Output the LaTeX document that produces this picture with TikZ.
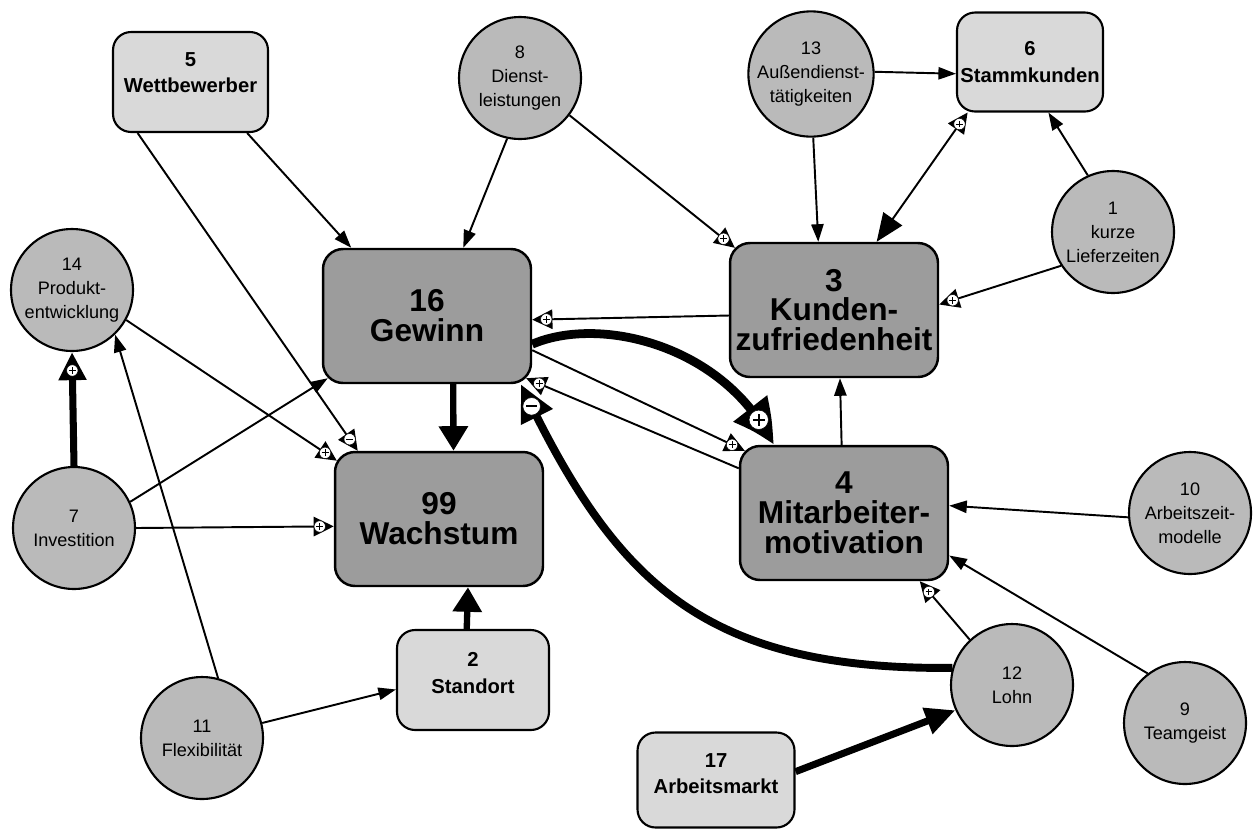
\documentclass[tikz,border=0pt]{standalone}
\usepackage{fontspec}
\setmainfont{Liberation Sans}
\usetikzlibrary{arrows.meta,bending,decorations.markings,calc}
\definecolor{dk}{gray}{0.61}
\definecolor{md}{gray}{0.73}
\definecolor{lt}{gray}{0.85}
\tikzset{
 bigbox/.style={draw, line width=1.4pt, rounded corners=0.4cm, fill=dk, minimum width=4.16cm, minimum height=2.68cm, inner sep=0pt, align=center, font=\fontsize{18}{17}\selectfont\bfseries},
 smallbox/.style={draw, line width=1.2pt, rounded corners=0.36cm, fill=lt, minimum width=3.1cm, minimum height=2cm, inner sep=0pt, align=center, font=\fontsize{11.5}{15}\selectfont\bfseries},
 circ/.style={draw, circle, line width=1.2pt, fill=md, minimum size=2.44cm, inner sep=0pt, align=center, font=\fontsize{10.3}{13.7}\selectfont},
 conn/.style={line width=1.1pt, -{Triangle[length=10pt,width=7pt]}},
 connp/.style={line width=1.1pt, -{Triangle[length=11.5pt,width=11pt]}},
 thickarr/.style={line width=3.6pt, -{Triangle[length=14pt,width=16pt]}},
 pmk/.style 2 args={postaction={decorate,decoration={markings,mark=at position #1 with {\pgftransformresetnontranslations
   \draw[-,fill=white,line width=0.3pt] (0pt,0pt) circle (#2/2);
   \draw[-,line width=0.085*#2] (-0.3*#2,0pt) -- (0.3*#2,0pt) (0pt,-0.3*#2) -- (0pt,0.3*#2);}}}},
 mmk/.style 2 args={postaction={decorate,decoration={markings,mark=at position #1 with {\pgftransformresetnontranslations
   \draw[-,fill=white,line width=0.3pt] (0pt,0pt) circle (#2/2);
   \draw[-,line width=0.12*#2] (-0.3*#2,0pt) -- (0.3*#2,0pt);}}}},
}
\begin{document}
\begin{tikzpicture}[x=0.02cm,y=-0.02cm]
\fill[white] (0,0) rectangle (1253,832);
\useasboundingbox (0,0) rectangle (1253,832);
% nodes
\node[smallbox] (n5) at (190.5,82) {5\\Wettbewerber\\[-4.5pt]\mbox{}};
\node[circ] (n8) at (520,78) {8\\Dienst-\\leistungen};
\node[circ] (n13) at (811,74) {13\\Außendienst-\\tätigkeiten};
\node[smallbox, minimum width=2.92cm, minimum height=1.98cm] (n6) at (1030,62) {6\\Stammkunden};
\node[circ] (n1) at (1113,232) {1\\kurze\\Lieferzeiten};
\node[circ] (n14) at (72,290) {14\\Produkt-\\entwicklung};
\node[bigbox] (n16) at (427,316) {16\\Gewinn};
\node[bigbox] (n3) at (834,310) {3\\Kunden-\\zufriedenheit};
\node[bigbox] (n99) at (439,519) {99\\Wachstum};
\node[bigbox] (n4) at (844,513) {4\\Mitarbeiter-\\motivation};
\node[circ] (n7) at (74,528) {7\\Investition};
\node[circ] (n10) at (1190,513) {10\\Arbeitszeit-\\modelle};
\node[smallbox, minimum width=3.04cm] (n2) at (473,680) {2\\Standort\\[-7pt]\mbox{}};
\node[circ] (n11) at (202,738) {11\\Flexibilität};
\node[circ] (n12) at (1012,685) {12\\Lohn};
\node[circ] (n9) at (1185,723) {9\\Teamgeist};
\node[smallbox, minimum width=3.14cm, minimum height=1.9cm] (n17) at (716,780) {17\\Arbeitsmarkt\\[-8pt]\mbox{}};
% connectors
\draw[conn] (n5.-42) -- (n16.138);
\draw[connp, mmk={-8pt}{6.5pt}] (n5.224) -- (n99.140);
\draw[conn] (n8.258) -- (n16.62);
\draw[connp, pmk={-8pt}{6.5pt}] (n8.-37) -- ([shift={(6,6)}]n3.north west);
\draw[conn] (n13.2) -- (n6.189);
\draw[conn] (n13.-88) -- (n3.103);
\draw[line width=1.1pt, {Triangle[length=11.5pt,width=11pt]}-{Triangle[length=16pt,width=13pt]}, pmk={8pt}{6.5pt}] (n6.219) -- (n3.58);
\draw[conn] (n1.114) -- (n6.-70);
\draw[connp, pmk={-8pt}{6.5pt}] (n1.213) -- (n3.3);
\draw[connp, pmk={-8pt}{6.5pt}] (n3.183) -- (n16.-2);
\draw[line width=5pt, -{Triangle[length=25pt,width=23pt,bend]}, pmk={-16.5pt}{11pt}] (n16.-15) .. controls (600,315) and (725,345) .. (n4.136);
\draw[connp, pmk={-8pt}{6.5pt}] (n16.-18) -- ([shift={(6,6)}]n4.north west);
\draw[connp, pmk={-8pt}{6.5pt}] (n4.157) -- ([shift={(-6,-6)}]n16.south east);
\draw[line width=4.5pt, -{Triangle[length=21pt,width=19pt,bend]}, mmk={-14pt}{10pt}] (n12.164) .. controls (702,670) and (615,582) .. (n16.-36);
\draw[thickarr] (n16.-69) -- (n99.78);
\draw[thickarr] (n2.97) -- (n99.-67);
\draw[connp, pmk={-8pt}{6.5pt}] (n14.-29) -- ([shift={(3,0)}]n99.151);
\draw[line width=4pt, -{Triangle[length=16pt,width=15pt]}, pmk={-10.5pt}{6.5pt}] (n7.90) -- (n14.-90);
\draw[conn] (n7.25) -- ([shift={(6,-6)}]n16.south west);
\draw[connp, pmk={-8pt}{6.5pt}] (n7.0) -- (n99.184);
\draw[conn] (n11.75) -- (n14.-46);
\draw[conn] (n11.14) -- (n2.187);
\draw[conn] (n4.92) -- (n3.-85);
\draw[conn] (n10.184) -- (n4.4);
\draw[conn] (n9.127) -- (n4.-22);
\draw[connp, pmk={-8pt}{6.5pt}] (n12.133) -- (n4.-42);
\draw[line width=4pt, -{Triangle[length=17pt,width=15pt]}] (n17.6) -- (n12.204);
\end{tikzpicture}
\end{document}
